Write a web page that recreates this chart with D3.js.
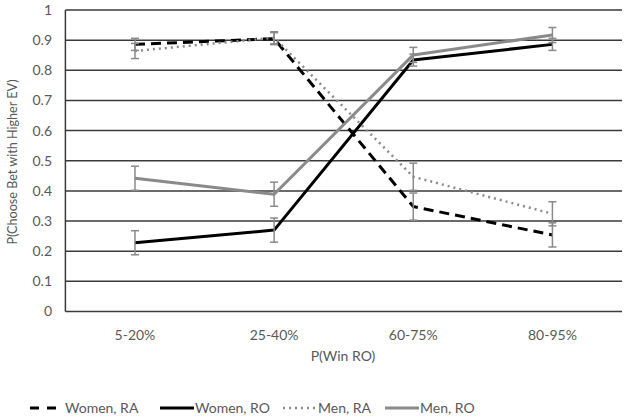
<!DOCTYPE html>
<html><head><meta charset="utf-8">
<script src="https://cdn.jsdelivr.net/npm/d3@7"></script>
<style>body{margin:0;background:#fff}text{font-family:Lato,"Open Sans",sans-serif;fill:#595959}</style>
</head><body><svg id="c" width="625" height="419"></svg>
<script>
const categories = ["5-20%", "25-40%", "60-75%", "80-95%"];
const yTicks = [0, 0.1, 0.2, 0.3, 0.4, 0.5, 0.6, 0.7, 0.8, 0.9, 1];
const seriesNames = ["Women, RA", "Women, RO", "Men, RA", "Men, RO"];
const womenRA = [0.886, 0.905, 0.348, 0.254];
const womenRO = [0.228, 0.27, 0.834, 0.886];
const menRA = [0.864, 0.908, 0.447, 0.324];
const menRO = [0.442, 0.389, 0.851, 0.917];
const womenRAErr = [0.02, 0.02, 0.045, 0.04];
const womenROErr = [0.04, 0.04, 0.02, 0.02];
const menRAErr = [0.025, 0.02, 0.045, 0.04];
const menROErr = [0.04, 0.04, 0.025, 0.025];

const styles = [
  {color:"#000", dash:"10,6", width:3},
  {color:"#000", dash:null, width:3},
  {color:"#8a8a8a", dash:"2,4", width:2.5},
  {color:"#8a8a8a", dash:null, width:3}
];
const series = [
  {name:seriesNames[0], v:womenRA, e:womenRAErr, s:styles[0]},
  {name:seriesNames[1], v:womenRO, e:womenROErr, s:styles[1]},
  {name:seriesNames[2], v:menRA, e:menRAErr, s:styles[2]},
  {name:seriesNames[3], v:menRO, e:menROErr, s:styles[3]}
];

const svg = d3.select("#c");
const L = 65.4, R = 622, T = 10, B = 311.5;
const x = d3.scaleBand().domain(categories).range([L, R]);
const y = d3.scaleLinear().domain([0, 1]).range([B, T]);

svg.append("g").selectAll("line").data(yTicks).join("line")
  .attr("x1", L).attr("x2", R).attr("y1", d => y(d)).attr("y2", d => y(d))
  .attr("stroke", "#3a3a3a").attr("stroke-width", 1.5);
svg.append("line").attr("x1", L).attr("x2", L).attr("y1", T).attr("y2", B)
  .attr("stroke", "#3a3a3a").attr("stroke-width", 1.5);

svg.append("g").selectAll("text").data(yTicks).join("text")
  .attr("x", 52).attr("y", d => y(d)).attr("dy", "0.35em")
  .attr("text-anchor", "end").attr("font-size", 14).text(d => d3.format("~g")(d));

svg.append("g").selectAll("text").data(categories).join("text")
  .attr("x", d => x(d) + x.bandwidth() / 2).attr("y", 335).attr("dy", "0.35em")
  .attr("text-anchor", "middle").attr("font-size", 14).text(d => d);

svg.append("text").attr("x", 343).attr("y", 356).attr("dy", "0.35em")
  .attr("text-anchor", "middle").attr("font-size", 14).text("P(Win RO)");
svg.append("text").attr("transform", "translate(13,162) rotate(-90)").attr("dy", "0.35em")
  .attr("text-anchor", "middle").attr("font-size", 12.6).text("P(Choose Bet with Higher EV)");

const cx = c => x(c) + x.bandwidth() / 2;
const line = d3.line().x(d => cx(d.c)).y(d => y(d.v));

series.forEach(sr => {
  const pts = categories.map((c, i) => ({c, v: sr.v[i], e: sr.e[i]}));
  svg.append("path").datum(pts).attr("d", line).attr("fill", "none")
    .attr("stroke", sr.s.color).attr("stroke-width", sr.s.width)
    .attr("stroke-dasharray", sr.s.dash).attr("stroke-linejoin", "round");
});
series.forEach(sr => {
  const pts = categories.map((c, i) => ({c, v: sr.v[i], e: sr.e[i]}));
  const g = svg.append("g").attr("stroke", "#8a8a8a").attr("stroke-width", 1.5);
  g.selectAll("line.v").data(pts).join("line").attr("class", "v")
    .attr("x1", d => cx(d.c)).attr("x2", d => cx(d.c))
    .attr("y1", d => y(d.v - d.e)).attr("y2", d => y(d.v + d.e));
  [-1, 1].forEach(sg => {
    g.selectAll("line.c" + (sg + 1)).data(pts).join("line").attr("class", "c" + (sg + 1))
      .attr("x1", d => cx(d.c) - 4).attr("x2", d => cx(d.c) + 4)
      .attr("y1", d => y(d.v + sg * d.e)).attr("y2", d => y(d.v + sg * d.e));
  });
});

const legX = [30, 160, 283, 385];
const lg = svg.append("g");
series.forEach((sr, i) => {
  lg.append("line").attr("x1", legX[i]).attr("x2", legX[i] + 34).attr("y1", 408).attr("y2", 408)
    .attr("stroke", sr.s.color).attr("stroke-width", sr.s.width)
    .attr("stroke-dasharray", i === 0 ? "9,8" : sr.s.dash);
  lg.append("text").attr("x", legX[i] + 35).attr("y", 408).attr("dy", "0.35em")
    .attr("font-size", 14).text(sr.name);
});
</script></body></html>
